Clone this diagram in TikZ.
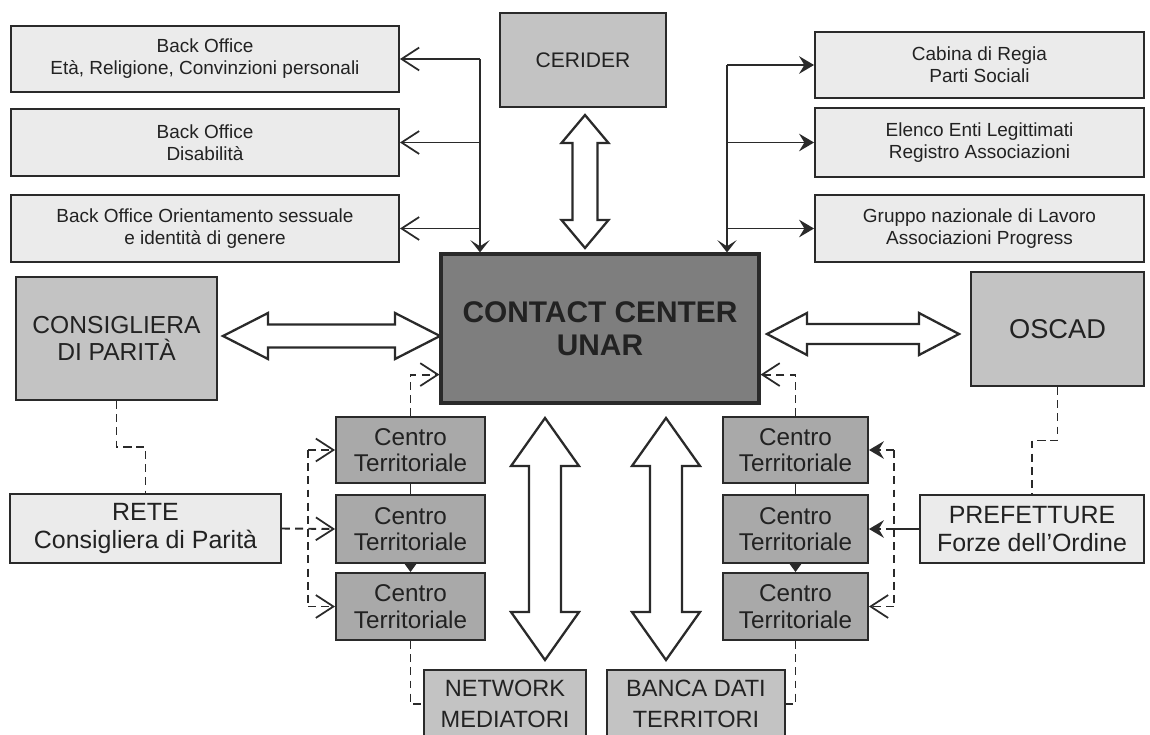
\documentclass[tikz,border=0pt]{standalone}
\usepackage{fontspec}
\setmainfont{Liberation Sans}
\usetikzlibrary{arrows.meta,calc}
\definecolor{lightbox}{HTML}{EBEBEB}
\definecolor{midbox}{HTML}{C3C3C3}
\definecolor{centrobox}{HTML}{A9A9A9}
\definecolor{ccbox}{HTML}{7E7E7E}
\definecolor{linec}{HTML}{2A2A2A}
\definecolor{txt}{HTML}{222222}
\newcommand{\bx}[7]{\node[#1, minimum width={(#4-#3)*0.02cm}, minimum height={(#6-#5)*0.02cm}] (#2) at ({(#3+#4)/2},{(#5+#6)/2}) {#7};}
\newcommand{\hblk}[6]{\draw[blk] (#1,#3) -- ({#1+#6},{#3-#5}) -- ({#1+#6},{#3-#4}) -- ({#2-#6},{#3-#4}) -- ({#2-#6},{#3-#5}) -- (#2,#3) -- ({#2-#6},{#3+#5}) -- ({#2-#6},{#3+#4}) -- ({#1+#6},{#3+#4}) -- ({#1+#6},{#3+#5}) -- cycle;}
\newcommand{\vblk}[6]{\draw[blk] (#3,#1) -- ({#3+#5},{#1+#6}) -- ({#3+#4},{#1+#6}) -- ({#3+#4},{#2-#6}) -- ({#3+#5},{#2-#6}) -- (#3,#2) -- ({#3-#5},{#2-#6}) -- ({#3-#4},{#2-#6}) -- ({#3-#4},{#1+#6}) -- ({#3-#5},{#1+#6}) -- cycle;}
\begin{document}
\begin{tikzpicture}[x=0.02cm,y=-0.02cm,
  box/.style={draw=linec, line width=1.1pt, inner sep=0pt, align=center, text=txt},
  lbox/.style={box, fill=lightbox, font=\fontsize{10.8}{12.6}\selectfont},
  mbox/.style={box, fill=midbox, font=\fontsize{14}{15.6}\selectfont},
  cbox/.style={box, fill=centrobox, font=\fontsize{13.8}{15}\selectfont},
  wbox/.style={box, fill=lightbox, font=\fontsize{14.2}{16}\selectfont},
  ccstyle/.style={box, fill=ccbox, line width=1.8pt, font=\fontsize{17}{19}\selectfont\bfseries},
  conn/.style={draw=linec, line width=1pt},
  dconn/.style={conn, line width=1.1pt, dash pattern=on 4.5pt off 3pt},
  openV/.tip={Straight Barb[length=10pt,width=13pt,line width=1pt]},
  fillV/.tip={Stealth[length=8.5pt,width=10pt,inset=3pt]},
  downV/.tip={Stealth[length=7pt,width=11pt,inset=3.5pt]},
  blk/.style={draw=linec, line width=1.3pt, fill=white, line join=miter}]
\useasboundingbox (0,0) rectangle (1150,734);
% top left back office boxes
\bx{lbox}{bo1}{11}{399}{26}{92}{Back Office\\Età, Religione, Convinzioni personali}
\bx{lbox}{bo2}{11}{399}{109}{176}{Back Office\\Disabilità}
\bx{lbox}{bo3}{11}{399}{195}{262}{Back Office Orientamento sessuale\\e identità di genere}
% CERIDER
\bx{mbox, font=\fontsize{12}{14}\selectfont}{cer}{500}{666}{13}{107}{CERIDER}
% top right boxes
\bx{lbox}{r1}{815}{1144}{32}{98}{Cabina di Regia\\Parti Sociali}
\bx{lbox}{r2}{815}{1144}{108}{177}{Elenco Enti Legittimati\\Registro Associazioni}
\bx{lbox}{r3}{815}{1144}{195}{262}{Gruppo nazionale di Lavoro\\Associazioni Progress}
% contact center
\bx{ccstyle}{cc}{441}{759}{254}{403}{CONTACT CENTER\\UNAR}
% side boxes
\bx{mbox}{cons}{16}{217}{277}{400}{CONSIGLIERA\\DI PARITÀ}
\bx{mbox, font=\fontsize{15.5}{17}\selectfont}{oscad}{971}{1144}{272}{386}{OSCAD}
\bx{wbox}{rete}{10}{281}{494}{563}{RETE\\Consigliera di Parità}
\bx{wbox}{pref}{920}{1144}{495}{563}{PREFETTURE\\Forze dell’Ordine}
% centri territoriali
\bx{cbox}{lc1}{336}{485}{417}{483}{Centro\\Territoriale}
\bx{cbox}{lc2}{336}{485}{495}{563}{Centro\\Territoriale}
\bx{cbox}{lc3}{336}{485}{573}{640}{Centro\\Territoriale}
\bx{cbox}{rc1}{723}{868}{417}{483}{Centro\\Territoriale}
\bx{cbox}{rc2}{723}{868}{495}{563}{Centro\\Territoriale}
\bx{cbox}{rc3}{723}{868}{573}{640}{Centro\\Territoriale}
% bottom boxes
\bx{mbox, font=\fontsize{13.4}{18}\selectfont}{net}{424}{586}{670}{738}{NETWORK\\MEDIATORI}
\bx{mbox, font=\fontsize{13.4}{18}\selectfont}{banca}{607}{785}{670}{738}{BANCA DATI\\TERRITORI}
% block arrows
\vblk{115}{248}{585}{12.5}{23.5}{28}
\hblk{223}{440}{336}{11.5}{23}{45}
\hblk{767}{959}{334}{10}{21}{40}
\vblk{418}{660}{545}{16}{34}{48}
\vblk{418}{660}{666}{16}{34}{48}
% top left connectors
\coordinate (tl) at (480,59);
\draw[conn,-openV] (tl) -- (bo1.east);
\draw[conn,-openV] (tl |- bo2.east) -- (bo2.east);
\draw[conn,-openV] (tl |- bo3.east) -- (bo3.east);
\draw[conn,-downV] (tl) -- (tl |- cc.north);
% top right connectors
\coordinate (tr) at (727,65);
\draw[conn,-fillV] (tr) -- (r1.west);
\draw[conn,-fillV] (tr |- r2.west) -- (r2.west);
\draw[conn,-fillV] (tr |- r3.west) -- (r3.west);
\draw[conn,-downV] (tr) -- (tr |- cc.north);
% consigliera -> rete, oscad -> prefetture
\draw[dconn] (cons.south) |- ($(cons.south)!0.5!(rete.north)$) -| (rete.north);
\draw[dconn] (oscad.south) |- ($(oscad.south)!0.5!(pref.north)$) -| (pref.north);
% rete -> left centri
\coordinate (lv) at (308,0);
\draw[dconn] (lv |- lc1.west) -- (lv |- lc3.west);
\draw[dconn,-openV] (lv |- lc1.west) -- (lc1.west);
\draw[dconn,-openV] (rete.east) -- (lc2.west);
\draw[dconn,-openV] (lv |- lc3.west) -- (lc3.west);
% prefetture -> right centri
\coordinate (rv) at (894,0);
\draw[dconn] (rv |- rc1.east) -- (rv |- rc3.east);
\draw[dconn,-fillV] (rv |- rc1.east) -- (rc1.east);
\draw[conn] (pref.west) -- (rv |- pref.west);
\draw[dconn,-fillV] (rv |- pref.west) -- (rc2.east);
\draw[dconn,-openV] (rv |- rc3.east) -- (rc3.east);
% centri chains
\draw[conn] (lc1.south) -- (lc2.north);
\draw[conn,-{Triangle[length=5pt,width=7pt]}] (lc2.south) -- (lc3.north);
\draw[conn] (rc1.south) -- (rc2.north);
\draw[conn,-{Triangle[length=5pt,width=7pt]}] (rc2.south) -- (rc3.north);
% centri -> contact center
\draw[dconn,-openV] (lc1.north) |- ($(cc.south west)+(0,-30)$);
\draw[dconn,-openV] (rc1.north) |- ($(cc.south east)+(0,-30)$);
% centri -> bottom boxes
\draw[dconn] (lc3.south) |- (net.west);
\draw[dconn] (rc3.south) |- (banca.east);
\end{tikzpicture}
\end{document}
